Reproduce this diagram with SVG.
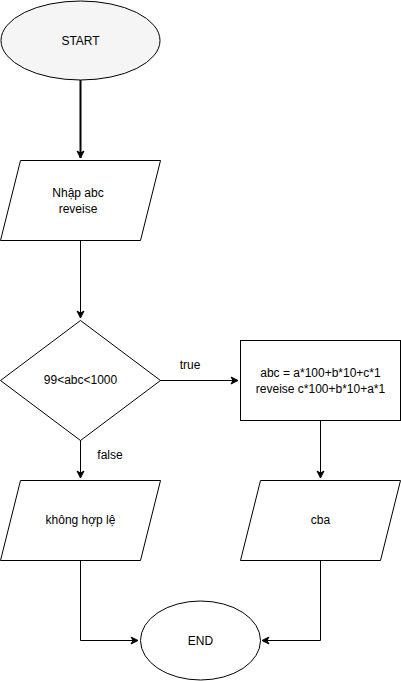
<svg xmlns="http://www.w3.org/2000/svg" width="401" height="681" viewBox="0 0 401 681">
<style>
.s{fill:#ffffff;stroke:#000000;stroke-width:1}
.t{font-family:"Liberation Sans",Arial,sans-serif;font-size:12px;fill:#000000;text-anchor:middle;dominant-baseline:central}
.c{fill:none;stroke:#000000;stroke-width:1}
</style>
<defs>
<marker id="a" markerWidth="10" markerHeight="10" refX="8" refY="5" orient="auto" markerUnits="userSpaceOnUse">
<path d="M1,1.5 L8,5 L1,8.5 L3,5 Z" fill="#000" stroke="#000" stroke-width="1"/>
</marker>
</defs>
<rect width="401" height="681" fill="#ffffff"/>
<g id="connectors">
<path class="c" d="M80.5,80 L80.5,158" stroke-width="2" style="stroke-width:2" marker-end="url(#a)"/>
<path class="c" d="M80.5,240 L80.5,318" marker-end="url(#a)"/>
<path class="c" d="M160,380.5 L238,380.5" marker-end="url(#a)"/>
<text class="t" x="190" y="365">true</text>
<path class="c" d="M80.5,440 L80.5,478" marker-end="url(#a)"/>
<text class="t" x="110" y="455">false</text>
<path class="c" d="M320.5,420 L320.5,478" marker-end="url(#a)"/>
<path class="c" d="M80.5,560 L80.5,640.5 L138,640.5" marker-end="url(#a)"/>
<path class="c" d="M320.5,560 L320.5,640.5 L262,640.5" marker-end="url(#a)"/>
</g>
<g id="start">
<ellipse class="s" cx="80.5" cy="40.5" rx="79.5" ry="39.5" style="fill:#f5f5f5"/>
<text class="t" x="80.5" y="40.5">START</text>
</g>
<g id="input">
<path class="s" d="M20.5,160.5 L160.5,160.5 L140.5,240.5 L0.5,240.5 Z"/>
<text class="t" x="78" y="192.5">Nhập abc</text>
<text class="t" x="78" y="208.5">reveise</text>
</g>
<g id="decision">
<path class="s" d="M80.5,320.5 L160.5,380.5 L80.5,440.5 L0.5,380.5 Z"/>
<text class="t" x="80.5" y="380">99&lt;abc&lt;1000</text>
</g>
<g id="process">
<rect class="s" x="240.5" y="340.5" width="160" height="80"/>
<text class="t" x="320.5" y="372.5">abc = a*100+b*10+c*1</text>
<text class="t" x="320.5" y="388.5">reveise c*100+b*10+a*1</text>
</g>
<g id="invalid">
<path class="s" d="M20.5,480.5 L160.5,480.5 L140.5,560.5 L0.5,560.5 Z"/>
<text class="t" x="80.5" y="520">không hợp lệ</text>
</g>
<g id="output">
<path class="s" d="M260.5,480.5 L400.5,480.5 L380.5,560.5 L240.5,560.5 Z"/>
<text class="t" x="320.5" y="520">cba</text>
</g>
<g id="end">
<ellipse class="s" cx="200.5" cy="640.5" rx="60" ry="39.5"/>
<text class="t" x="200.5" y="640.5">END</text>
</g>
</svg>
